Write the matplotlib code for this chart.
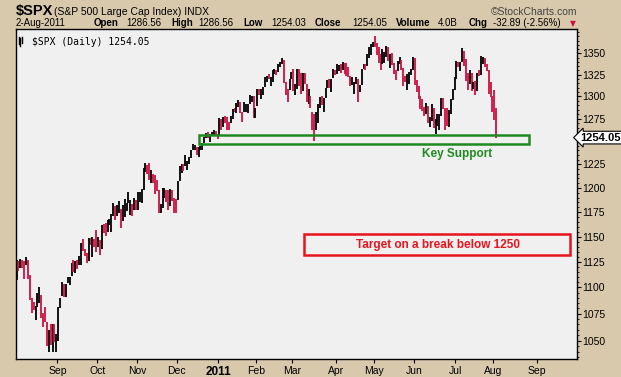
import numpy as np
import matplotlib.pyplot as plt
from matplotlib.ticker import FixedLocator, NullFormatter

plt.rcParams['font.family'] = ['Liberation Sans', 'DejaVu Sans']

# daily S&P 500 bars, 2-Aug-2010 .. 2-Aug-2011
prev_close = 1101.60

close = [
    # Aug 2010
    1125.86, 1120.46, 1127.24, 1125.81, 1121.64, 1127.79, 1121.06, 1089.47, 1083.61, 1079.25, 1079.38,
    1092.54, 1094.16, 1075.63, 1071.69, 1067.36, 1051.87, 1055.33, 1047.22, 1064.59, 1048.92, 1049.33,
    # Sep
    1080.29, 1090.10, 1104.51, 1091.84, 1098.87, 1104.18, 1109.55, 1121.90, 1121.10, 1125.07, 1124.66,
    1125.59, 1142.71, 1139.78, 1134.28, 1124.83, 1148.67, 1142.16, 1147.70, 1144.73, 1141.20,
    # Oct
    1146.24, 1137.03, 1160.75, 1159.97, 1158.06, 1165.15, 1165.32, 1169.77, 1178.10, 1173.81, 1176.19,
    1184.71, 1165.90, 1178.17, 1180.26, 1183.08, 1185.62, 1185.64, 1182.45, 1183.78, 1183.26,
    # Nov
    1184.38, 1193.57, 1197.96, 1221.06, 1225.85, 1223.25, 1213.40, 1218.71, 1213.54, 1199.21, 1197.75,
    1178.34, 1178.59, 1196.69, 1199.73, 1197.84, 1180.73, 1198.35, 1189.40, 1187.76, 1180.55,
    # Dec
    1206.07, 1221.53, 1224.71, 1223.12, 1223.75, 1228.28, 1233.00, 1240.40, 1240.46, 1241.59, 1235.23,
    1242.87, 1243.91, 1247.08, 1254.60, 1258.84, 1256.77, 1257.54, 1258.51, 1259.78, 1257.88, 1257.64,
    # Jan 2011
    1271.87, 1270.20, 1276.56, 1273.85, 1271.50, 1269.75, 1274.48, 1285.96, 1283.76, 1293.24,
    1295.02, 1281.92, 1280.26, 1283.35, 1290.84, 1291.18, 1296.63, 1299.54, 1276.34, 1286.12,
    # Feb
    1307.59, 1304.03, 1307.10, 1310.87, 1319.05, 1324.57, 1320.88, 1321.87, 1329.15, 1332.32,
    1328.01, 1336.32, 1340.43, 1343.01, 1315.44, 1307.40, 1306.10, 1319.88, 1327.22,
    # Mar
    1306.33, 1308.44, 1330.97, 1321.15, 1310.13, 1321.82, 1320.02, 1295.11, 1304.28, 1296.39, 1281.87,
    1256.88, 1273.72, 1279.21, 1298.38, 1293.77, 1297.54, 1309.66, 1313.80, 1310.19, 1319.44, 1328.26, 1325.83,
    # Apr
    1332.41, 1332.87, 1332.63, 1335.54, 1333.51, 1328.17, 1324.46, 1314.16, 1314.41, 1314.52,
    1319.68, 1305.14, 1312.62, 1330.36, 1337.38, 1335.25, 1347.24, 1355.66, 1360.48, 1363.61,
    # May
    1361.22, 1356.62, 1347.32, 1335.10, 1340.20, 1346.29, 1357.16, 1342.08, 1348.65, 1337.77, 1329.47,
    1328.98, 1340.68, 1343.60, 1333.27, 1317.37, 1316.28, 1320.47, 1325.69, 1331.10, 1345.20,
    # Jun
    1314.55, 1312.94, 1300.16, 1286.17, 1284.94, 1279.56, 1289.00, 1270.98, 1271.83, 1287.87, 1265.42,
    1267.64, 1271.50, 1278.36, 1295.52, 1287.14, 1283.50, 1268.45, 1280.10, 1296.67, 1307.41, 1320.64,
    # Jul
    1339.67, 1337.88, 1339.22, 1353.22, 1343.80, 1319.49, 1313.64, 1317.72, 1308.87, 1316.14,
    1305.44, 1326.73, 1325.84, 1343.80, 1345.02, 1337.43, 1331.94, 1304.89, 1300.67, 1292.28,
    # Aug 2011
    1286.94, 1254.05,
]

high = [
    1127, 1126, 1128, 1127, 1126, 1130, 1127, 1112, 1090, 1086, 1082,
    1095, 1100, 1093, 1076, 1081, 1067, 1060, 1065, 1065, 1065, 1056,
    1081, 1090, 1105, 1103, 1103, 1110, 1110, 1124, 1127, 1126, 1127,
    1131, 1144, 1148, 1138, 1134, 1149, 1149, 1150, 1148, 1157,
    1150, 1147, 1162, 1163, 1164, 1167, 1168, 1173, 1184, 1181, 1182,
    1186, 1178, 1182, 1189, 1184, 1196, 1187, 1183, 1190, 1187,
    1196, 1196, 1199, 1221, 1227, 1224, 1226, 1219, 1215, 1214, 1208,
    1198, 1183, 1200, 1200, 1198, 1198, 1199, 1198, 1190, 1188,
    1207, 1223, 1225, 1225, 1235, 1229, 1233, 1240, 1247, 1246, 1244,
    1244, 1245, 1248, 1255, 1259, 1260, 1258, 1260, 1262, 1261, 1258,
    1276, 1275, 1277, 1278, 1277, 1271, 1278, 1286, 1287, 1293,
    1296, 1294, 1282, 1294, 1291, 1291, 1302, 1301, 1300, 1287,
    1308, 1308, 1308, 1311, 1322, 1324, 1326, 1322, 1330, 1332,
    1331, 1338, 1340, 1344, 1342, 1317, 1308, 1320, 1328,
    1332, 1314, 1332, 1332, 1327, 1327, 1327, 1314, 1308, 1301, 1282,
    1280, 1282, 1291, 1299, 1300, 1298, 1310, 1319, 1320, 1320, 1332, 1330,
    1338, 1336, 1338, 1340, 1339, 1339, 1334, 1324, 1322, 1316,
    1322, 1320, 1313, 1332, 1338, 1337, 1349, 1358, 1361, 1364,
    1371, 1362, 1357, 1349, 1355, 1352, 1359, 1357, 1349, 1350, 1339,
    1331, 1341, 1346, 1342, 1333, 1324, 1326, 1328, 1332, 1346,
    1345, 1319, 1312, 1300, 1297, 1288, 1293, 1289, 1277, 1292, 1287,
    1275, 1280, 1280, 1298, 1298, 1287, 1287, 1285, 1297, 1309, 1322,
    1341, 1340, 1340, 1356, 1353, 1343, 1327, 1331, 1327, 1317,
    1318, 1327, 1330, 1347, 1346, 1345, 1338, 1330, 1316, 1300,
    1307, 1287,
]

low = [
    1107, 1116, 1119, 1119, 1108, 1122, 1108, 1088, 1076, 1079, 1069,
    1081, 1085, 1071, 1063, 1067, 1045, 1040, 1046, 1040, 1049, 1040,
    1050, 1080, 1092, 1091, 1091, 1104, 1102, 1111, 1115, 1114, 1118,
    1122, 1122, 1136, 1131, 1124, 1126, 1142, 1130, 1140, 1135,
    1140, 1132, 1138, 1154, 1151, 1155, 1162, 1155, 1171, 1167, 1171,
    1174, 1159, 1166, 1170, 1176, 1184, 1172, 1171, 1177, 1177,
    1177, 1185, 1184, 1198, 1217, 1215, 1208, 1205, 1205, 1194, 1197,
    1174, 1174, 1179, 1190, 1185, 1177, 1181, 1186, 1174, 1174,
    1187, 1207, 1216, 1218, 1223, 1219, 1225, 1232, 1240, 1240, 1235,
    1233, 1240, 1240, 1248, 1254, 1254, 1249, 1256, 1257, 1256, 1253,
    1257, 1262, 1266, 1270, 1262, 1262, 1270, 1275, 1282, 1281,
    1288, 1281, 1271, 1283, 1282, 1281, 1291, 1294, 1276, 1276,
    1289, 1302, 1297, 1302, 1311, 1317, 1320, 1312, 1316, 1326,
    1325, 1328, 1334, 1338, 1315, 1302, 1294, 1307, 1320,
    1306, 1302, 1309, 1312, 1303, 1306, 1314, 1294, 1292, 1287, 1262,
    1250, 1262, 1270, 1287, 1290, 1283, 1298, 1310, 1310, 1305, 1321, 1325,
    1326, 1329, 1327, 1330, 1326, 1323, 1322, 1312, 1313, 1303,
    1314, 1294, 1305, 1313, 1332, 1331, 1335, 1344, 1348, 1358,
    1358, 1348, 1339, 1331, 1338, 1339, 1346, 1341, 1333, 1336, 1326,
    1319, 1329, 1337, 1331, 1312, 1316, 1307, 1314, 1325, 1331,
    1313, 1305, 1297, 1286, 1284, 1278, 1280, 1270, 1266, 1272, 1265,
    1258, 1267, 1262, 1278, 1286, 1262, 1267, 1266, 1280, 1296, 1307,
    1320, 1334, 1329, 1340, 1335, 1318, 1307, 1314, 1306, 1308,
    1302, 1306, 1323, 1325, 1337, 1334, 1329, 1303, 1299, 1283,
    1274, 1254,
]

# first trading day of each month (bar index) and its label
month_starts = [22, 43, 64, 85, 107, 127, 146, 169, 189, 210, 232, 252, 275]
month_labels = ['Sep', 'Oct', 'Nov', 'Dec', '2011', 'Feb', 'Mar', 'Apr', 'May', 'Jun', 'Jul', 'Aug', 'Sep']

price_ticks = [1050, 1075, 1100, 1125, 1150, 1175, 1200, 1225, 1250, 1275, 1300, 1325, 1350]

W, H = 621, 377
bg = '#d9c9ac'
up_col = '#000000'
down_col = '#cc1040'

def px(x, y):
    return x / W, 1 - y / H

fig = plt.figure(figsize=(W / 100, H / 100), dpi=100, facecolor=bg)
ax = fig.add_axes([16 / W, 1 - 359 / H, 561 / W, 330 / H])
ax.set_facecolor('#f0f0f0')

x = np.arange(len(close))
prev = [prev_close] + close[:-1]
colors = [up_col if c >= p else down_col for c, p in zip(close, prev)]
ax.vlines(x, low, high, colors=colors, linewidth=1.3)

ax.set_yscale('log')
ax.set_ylim(1033.3, 1379)
ax.set_xlim(-0.3, 295.6)

# price axis on the right
ax.yaxis.tick_right()
ax.yaxis.set_major_locator(FixedLocator(price_ticks))
ax.yaxis.set_major_formatter(plt.FixedFormatter([str(t) for t in price_ticks]))
ax.yaxis.set_minor_locator(FixedLocator(list(range(1035, 1380, 5))))
ax.yaxis.set_minor_formatter(NullFormatter())
ax.tick_params(axis='y', which='major', length=3, width=0.8, pad=1, labelsize=7.5, direction='out')
ax.tick_params(axis='y', which='minor', length=1.5, width=0.6, direction='out')
# the last-price tag sits over this label in the original
for lab in ax.get_yticklabels():
    if lab.get_text() == '1250':
        lab.set_visible(False)

# month axis
ax.set_xticks([m - 0.5 for m in month_starts])
ax.set_xticklabels(month_labels)
ax.tick_params(axis='x', length=3, width=0.8, pad=2, labelsize=7.5, direction='out')
for lab in ax.get_xticklabels():
    if lab.get_text() == '2011':
        lab.set_fontweight('bold')
        lab.set_fontsize(8.5)

for s in ax.spines.values():
    s.set_linewidth(1.0)
    s.set_color('black')

# annotations
ax.add_patch(plt.Rectangle((96.2, 1247.3), 174.0, 9.8, fill=False, ec='#1f8a1f', lw=1.8, zorder=4))
ax.text(232.3, 1236, 'Key Support', color='#1f8a1f', fontsize=8.5, fontweight='bold',
        ha='center', va='center')
ax.add_patch(plt.Rectangle((151.7, 1131.7), 140.3, 20.7, fill=False, ec='#e8141e', lw=1.8, zorder=4))
ax.text(222.1, 1141.7, 'Target on a break below 1250', color='#e8141e', fontsize=8.5,
        fontweight='bold', ha='center', va='center')

# legend line in the panel
ax.text(0.028, 0.977, '$SPX (Daily) 1254.05', transform=ax.transAxes, family='DejaVu Sans Mono',
        fontsize=7, va='top', ha='left')
for i, (y0, y1) in enumerate([(0.955, 0.975), (0.950, 0.972), (0.958, 0.976)]):
    ax.plot([0.005 + i * 0.003] * 2, [y0, y1], transform=ax.transAxes, color='black', lw=1.0)

# last price tag
ax.text(1.006, close[-1], '1254.05', transform=ax.get_yaxis_transform(), fontsize=8,
        fontweight='bold', va='center', ha='left', clip_on=False, zorder=10,
        bbox=dict(boxstyle='larrow,pad=0.12', fc='white', ec='black', lw=0.8))

# header
fig.text(*px(16, 15), '$SPX', fontsize=10.5, fontweight='bold', va='baseline')
fig.text(*px(54, 15), '(S&P 500 Large Cap Index) INDX', fontsize=7.5, va='baseline')
fig.text(*px(577, 15), '\u00a9StockCharts.com', fontsize=7.5, color='#444444', ha='right', va='baseline')

row = [
    (16, '2-Aug-2011', 'normal'), (94, 'Open', 'bold'), (126, '1286.56', 'normal'),
    (171, 'High', 'bold'), (198, '1286.56', 'normal'), (243, 'Low', 'bold'),
    (271, '1254.03', 'normal'), (315, 'Close', 'bold'), (352, '1254.05', 'normal'),
    (396, 'Volume', 'bold'), (438, '4.0B', 'normal'), (469, 'Chg', 'bold'),
    (493, '-32.89 (-2.56%)', 'normal'),
]
for xp, txt, wt in row:
    fig.text(*px(xp, 26.5), txt, fontsize=7, fontweight=wt, va='baseline')
fig.text(*px(573, 24), '\u25bc', fontsize=5.5, color='#cc1040', ha='center', va='center',
         family='DejaVu Sans')

fig.savefig('out.png', dpi=100, facecolor=bg)
